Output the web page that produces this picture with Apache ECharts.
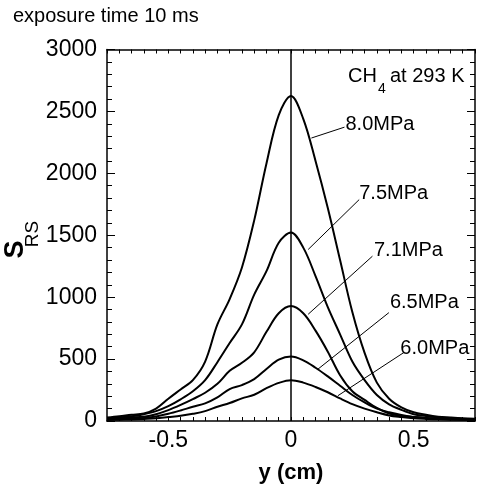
<!DOCTYPE html>
<html>
<head>
<meta charset="utf-8">
<script src="https://cdn.jsdelivr.net/npm/echarts@6/dist/echarts.min.js"></script>
<style>
  html, body { margin: 0; padding: 0; background: #fff; }
  #chart { width: 478px; height: 489px; }
</style>
</head>
<body>
<div id="chart"></div>
<script>
// y (cm) positions shared by all curves
const positions = [-0.75, -0.7, -0.65, -0.6, -0.55, -0.5, -0.45, -0.4, -0.35, -0.3, -0.25, -0.2, -0.15, -0.1, -0.05,
  0, 0.05, 0.1, 0.15, 0.2, 0.25, 0.3, 0.35, 0.4, 0.45, 0.5, 0.55, 0.6, 0.65, 0.7, 0.75];

// S_RS, one array per pressure
const s80 = [28, 38, 50, 60, 100, 180, 255, 330, 480, 780, 985, 1240, 1620, 2080, 2470, 2625, 2440, 2100, 1720, 1300, 880, 550, 310, 180, 110, 70, 50, 35, 28, 22, 18];
const s75 = [22, 28, 38, 55, 80, 120, 175, 240, 330, 475, 630, 780, 1020, 1210, 1440, 1522, 1400, 1170, 920, 700, 480, 330, 210, 135, 90, 55, 40, 28, 22, 18, 15];
const s71 = [18, 22, 28, 35, 55, 88, 130, 177, 228, 300, 405, 470, 555, 720, 870, 928, 870, 730, 560, 370, 240, 170, 105, 60, 42, 32, 24, 20, 16, 14, 12];
const s65 = [12, 15, 18, 25, 37, 58, 85, 115, 142, 190, 258, 290, 338, 420, 495, 521, 490, 430, 360, 285, 210, 150, 100, 70, 48, 32, 25, 20, 15, 12, 10];
const s60 = [8, 10, 13, 17, 22, 32, 42, 58, 80, 115, 145, 183, 212, 265, 308, 330, 310, 275, 232, 182, 136, 100, 70, 45, 32, 22, 17, 14, 11, 9, 8];

const seriesNames = ["8.0MPa", "7.5MPa", "7.1MPa", "6.5MPa", "6.0MPa"];
const seriesValues = [s80, s75, s71, s65, s60];

// label leader lines, in data coordinates: [start, end]
const leaders = [
  [[0.083, 2285], [0.218, 2373]],
  [[0.07, 1385], [0.278, 1788]],
  [[0.07, 862], [0.332, 1331]],
  [[0.11, 419], [0.399, 875]],
  [[0.191, 204], [0.46, 553]],
];
const labelShift = [[1, -3], [0, -6], [1.5, -6], [1, -10], [-3.5, -4]];

const xTickLabels = [-0.5, 0, 0.5];

const FONT = "Liberation Sans, Arial, Helvetica, sans-serif";

const chart = echarts.init(document.getElementById("chart"));

const xAxisBase = {
  type: "value",
  min: -0.75,
  max: 0.75,
  interval: 0.05,
  axisLine: { show: true, onZero: false, lineStyle: { color: "#000", width: 1.5 } },
  axisTick: { show: true, inside: true, length: 4, lineStyle: { color: "#000", width: 1 } },
  splitLine: { show: false },
};

const yAxisBase = {
  type: "value",
  min: 0,
  max: 3000,
  interval: 500,
  axisLine: { show: true, onZero: false, lineStyle: { color: "#000", width: 1.5 } },
  axisTick: { show: true, inside: true, length: 8, lineStyle: { color: "#000", width: 1 } },
  minorTick: { show: true, splitNumber: 5, length: 5, lineStyle: { color: "#000", width: 1 } },
  splitLine: { show: false },
  minorSplitLine: { show: false },
};

const textEl = (text, x, y, size, extra) => ({
  type: "text",
  x,
  y,
  style: Object.assign(
    { text, fill: "#000", font: size + "px " + FONT, align: "left", verticalAlign: "middle" },
    extra || {}
  ),
});

const options = {
  animation: false,
  backgroundColor: "#fff",
  grid: { left: 107, top: 49.5, width: 372, height: 372.5 },
  xAxis: [
    {
      ...xAxisBase,
      position: "bottom",
      name: "y (cm)",
      nameLocation: "middle",
      nameGap: 41,
      nameTextStyle: { color: "#000", fontSize: 22, fontWeight: "bold", fontFamily: FONT },
      axisLabel: {
        color: "#000",
        fontSize: 23,
        fontFamily: FONT,
        margin: 8.5,
        formatter: (v) => {
          const r = Math.round(v * 100) / 100;
          return xTickLabels.includes(r) ? String(r) : "";
        },
      },
    },
    { ...xAxisBase, position: "top", axisLabel: { show: false } },
  ],
  yAxis: [
    {
      ...yAxisBase,
      position: "left",
      axisLabel: { color: "#000", fontSize: 23, fontFamily: FONT, margin: 10, formatter: (v) => String(v) },
    },
    { ...yAxisBase, position: "right", axisLabel: { show: false } },
  ],
  graphic: [
    textEl("exposure time 10 ms", 13, 16, 20),
    // y axis title S_RS, rotated
    Object.assign(textEl("S", 16, 249.5, 27, { align: "center", font: "bold 27px " + FONT }), { rotation: Math.PI / 2 }),
    Object.assign(textEl("RS", 33, 234, 19, { align: "center" }), { rotation: Math.PI / 2 }),
    // CH4 at 293 K
    textEl("CH", 348, 76.3, 20),
    textEl("4", 378, 89, 14),
    textEl("at 293 K", 390, 76.3, 20),
  ],
  series: seriesNames.map((name, i) => ({
    name,
    type: "line",
    xAxisIndex: 0,
    yAxisIndex: 0,
    smooth: 0.35,
    symbol: "none",
    lineStyle: { color: "#000", width: 2 },
    data: positions.map((x, k) => [x, seriesValues[i][k]]),
    markLine: {
      silent: true,
      symbol: "none",
      animation: false,
      lineStyle: { color: "#000", width: 1, type: "solid" },
      label: { show: false },
      data: [
        [{ coord: leaders[i][0] }, { coord: leaders[i][1] }],
        ...(i === 0 ? [{ xAxis: 0, lineStyle: { width: 1.5 } }] : []),
      ],
    },
    markPoint: {
      silent: true,
      symbol: "circle",
      symbolSize: 0,
      data: [{ coord: leaders[i][1] }],
      label: {
        show: true,
        position: "right",
        distance: labelShift[i][0],
        offset: [0, labelShift[i][1]],
        formatter: name,
        color: "#000",
        fontSize: 20,
        fontFamily: FONT,
      },
    },
  })),
};

chart.setOption(options);
</script>
</body>
</html>
